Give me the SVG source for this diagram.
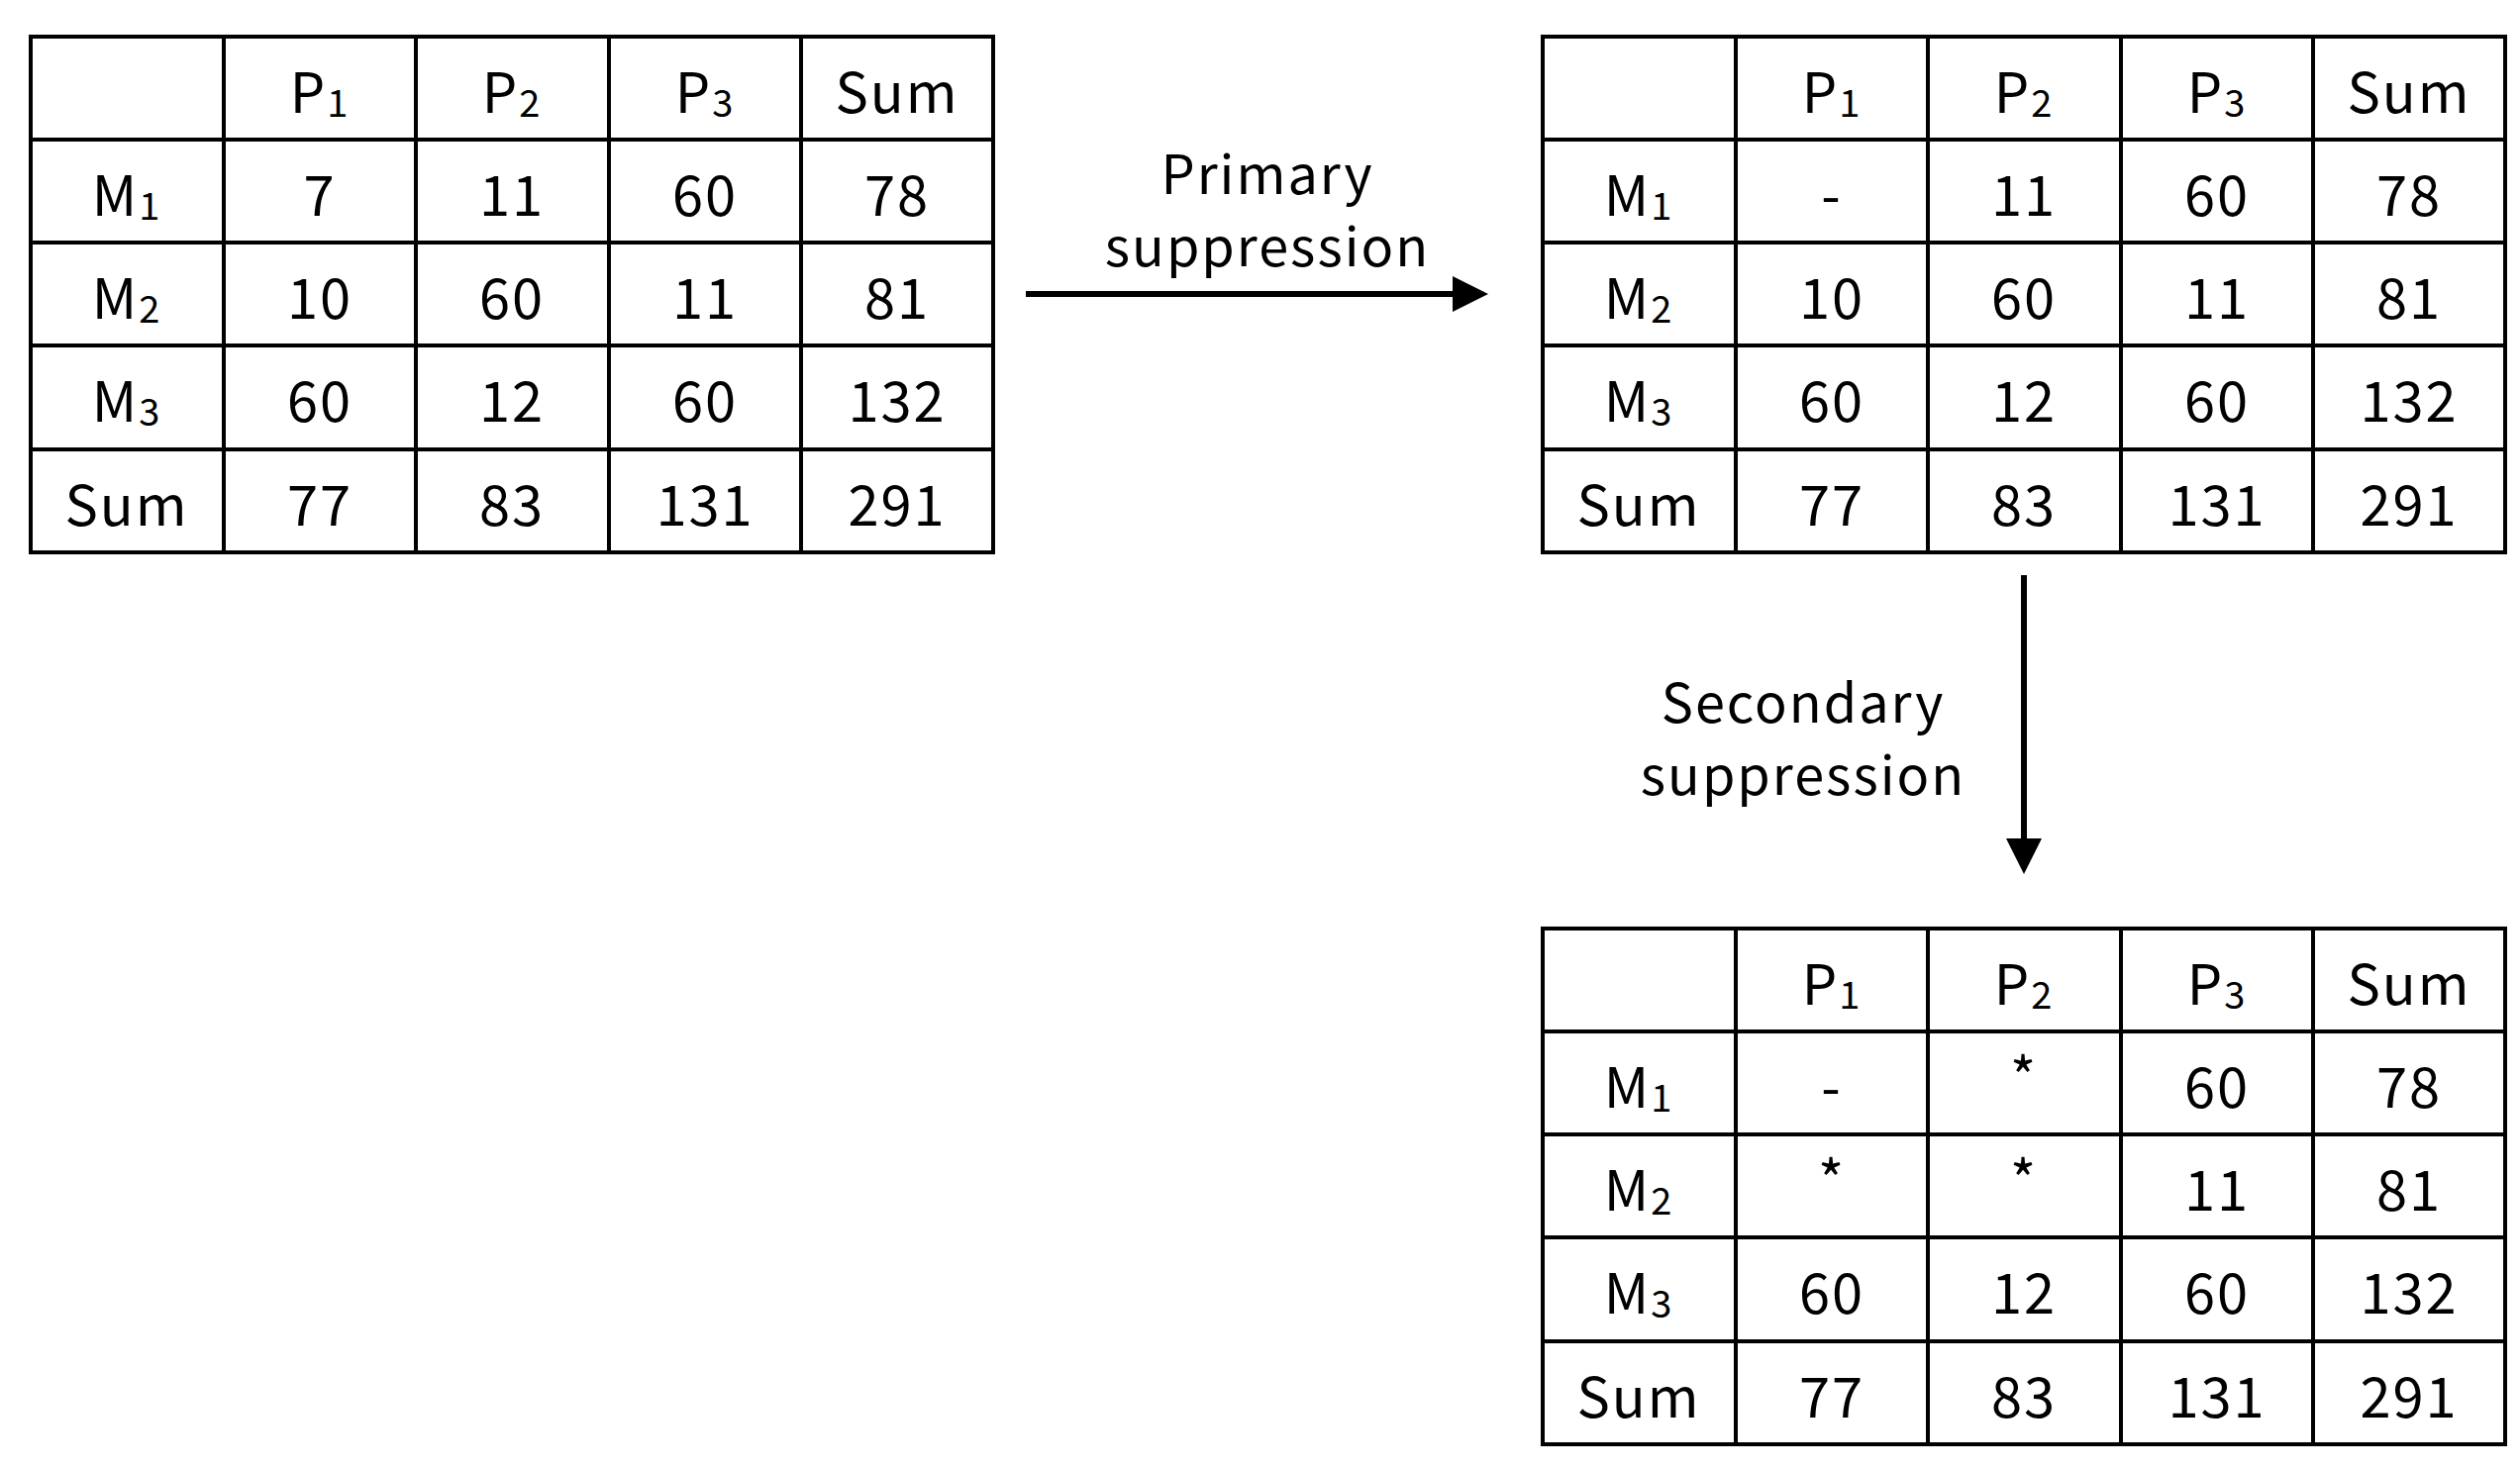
<svg xmlns="http://www.w3.org/2000/svg" width="2545" height="1485" viewBox="0 0 2545 1485">
<style>
text{font-family:"Noto Sans CJK JP","Noto Sans",sans-serif;font-size:56px;text-anchor:middle;dominant-baseline:central;fill:#000;letter-spacing:2px}
.s{font-size:38px}
.g{stroke:#000;stroke-width:4;fill:none}
.lab{font-size:54px}
</style>
<defs>
<marker id="ah" markerWidth="6" markerHeight="6" refX="5" refY="3" orient="auto" markerUnits="strokeWidth"><path d="M0,0L6,3L0,6z" fill="#000"/></marker>
<g id="grid"><rect class="g" x="0" y="0" width="972" height="521"/>
<path class="g" d="M195,0V521M389,0V521M584,0V521M778,0V521M0,104H972M0,208H972M0,312H972M0,417H972"/></g>
</defs>
<g id="table1" transform="translate(31,37)">
<use href="#grid"/>
<text x="292" y="52">P<tspan class="s" dy="12">1</tspan></text>
<text x="486" y="52">P<tspan class="s" dy="12">2</tspan></text>
<text x="681" y="52">P<tspan class="s" dy="12">3</tspan></text>
<text x="875" y="52">Sum</text>
<text x="97" y="156">M<tspan class="s" dy="12">1</tspan></text>
<text x="97" y="260">M<tspan class="s" dy="12">2</tspan></text>
<text x="97" y="364">M<tspan class="s" dy="12">3</tspan></text>
<text x="97" y="469">Sum</text>
<text x="292" y="156">7</text><text x="486" y="156">11</text><text x="681" y="156">60</text><text x="875" y="156">78</text>
<text x="292" y="260">10</text><text x="486" y="260">60</text><text x="681" y="260">11</text><text x="875" y="260">81</text>
<text x="292" y="364">60</text><text x="486" y="364">12</text><text x="681" y="364">60</text><text x="875" y="364">132</text>
<text x="292" y="469">77</text><text x="486" y="469">83</text><text x="681" y="469">131</text><text x="875" y="469">291</text>
</g>
<g id="table2" transform="translate(1558,37)">
<use href="#grid"/>
<text x="292" y="52">P<tspan class="s" dy="12">1</tspan></text>
<text x="486" y="52">P<tspan class="s" dy="12">2</tspan></text>
<text x="681" y="52">P<tspan class="s" dy="12">3</tspan></text>
<text x="875" y="52">Sum</text>
<text x="97" y="156">M<tspan class="s" dy="12">1</tspan></text>
<text x="97" y="260">M<tspan class="s" dy="12">2</tspan></text>
<text x="97" y="364">M<tspan class="s" dy="12">3</tspan></text>
<text x="97" y="469">Sum</text>
<text x="292" y="156">-</text><text x="486" y="156">11</text><text x="681" y="156">60</text><text x="875" y="156">78</text>
<text x="292" y="260">10</text><text x="486" y="260">60</text><text x="681" y="260">11</text><text x="875" y="260">81</text>
<text x="292" y="364">60</text><text x="486" y="364">12</text><text x="681" y="364">60</text><text x="875" y="364">132</text>
<text x="292" y="469">77</text><text x="486" y="469">83</text><text x="681" y="469">131</text><text x="875" y="469">291</text>
</g>
<g id="table3" transform="translate(1558,938)">
<use href="#grid"/>
<text x="292" y="52">P<tspan class="s" dy="12">1</tspan></text>
<text x="486" y="52">P<tspan class="s" dy="12">2</tspan></text>
<text x="681" y="52">P<tspan class="s" dy="12">3</tspan></text>
<text x="875" y="52">Sum</text>
<text x="97" y="156">M<tspan class="s" dy="12">1</tspan></text>
<text x="97" y="260">M<tspan class="s" dy="12">2</tspan></text>
<text x="97" y="364">M<tspan class="s" dy="12">3</tspan></text>
<text x="97" y="469">Sum</text>
<text x="292" y="156">-</text><text x="486" y="146">*</text><text x="681" y="156">60</text><text x="875" y="156">78</text>
<text x="292" y="250">*</text><text x="486" y="250">*</text><text x="681" y="260">11</text><text x="875" y="260">81</text>
<text x="292" y="364">60</text><text x="486" y="364">12</text><text x="681" y="364">60</text><text x="875" y="364">132</text>
<text x="292" y="469">77</text><text x="486" y="469">83</text><text x="681" y="469">131</text><text x="875" y="469">291</text>
</g>
<g id="connectors">
<path d="M1036,297H1497" stroke="#000" stroke-width="6" marker-end="url(#ah)"/>
<path d="M2044,581V877" stroke="#000" stroke-width="6" marker-end="url(#ah)"/>
<text class="lab" x="1280" y="172">Primary</text>
<text class="lab" x="1280" y="245">suppression</text>
<text class="lab" x="1821" y="706">Secondary</text>
<text class="lab" x="1821" y="779">suppression</text>
</g>
</svg>
